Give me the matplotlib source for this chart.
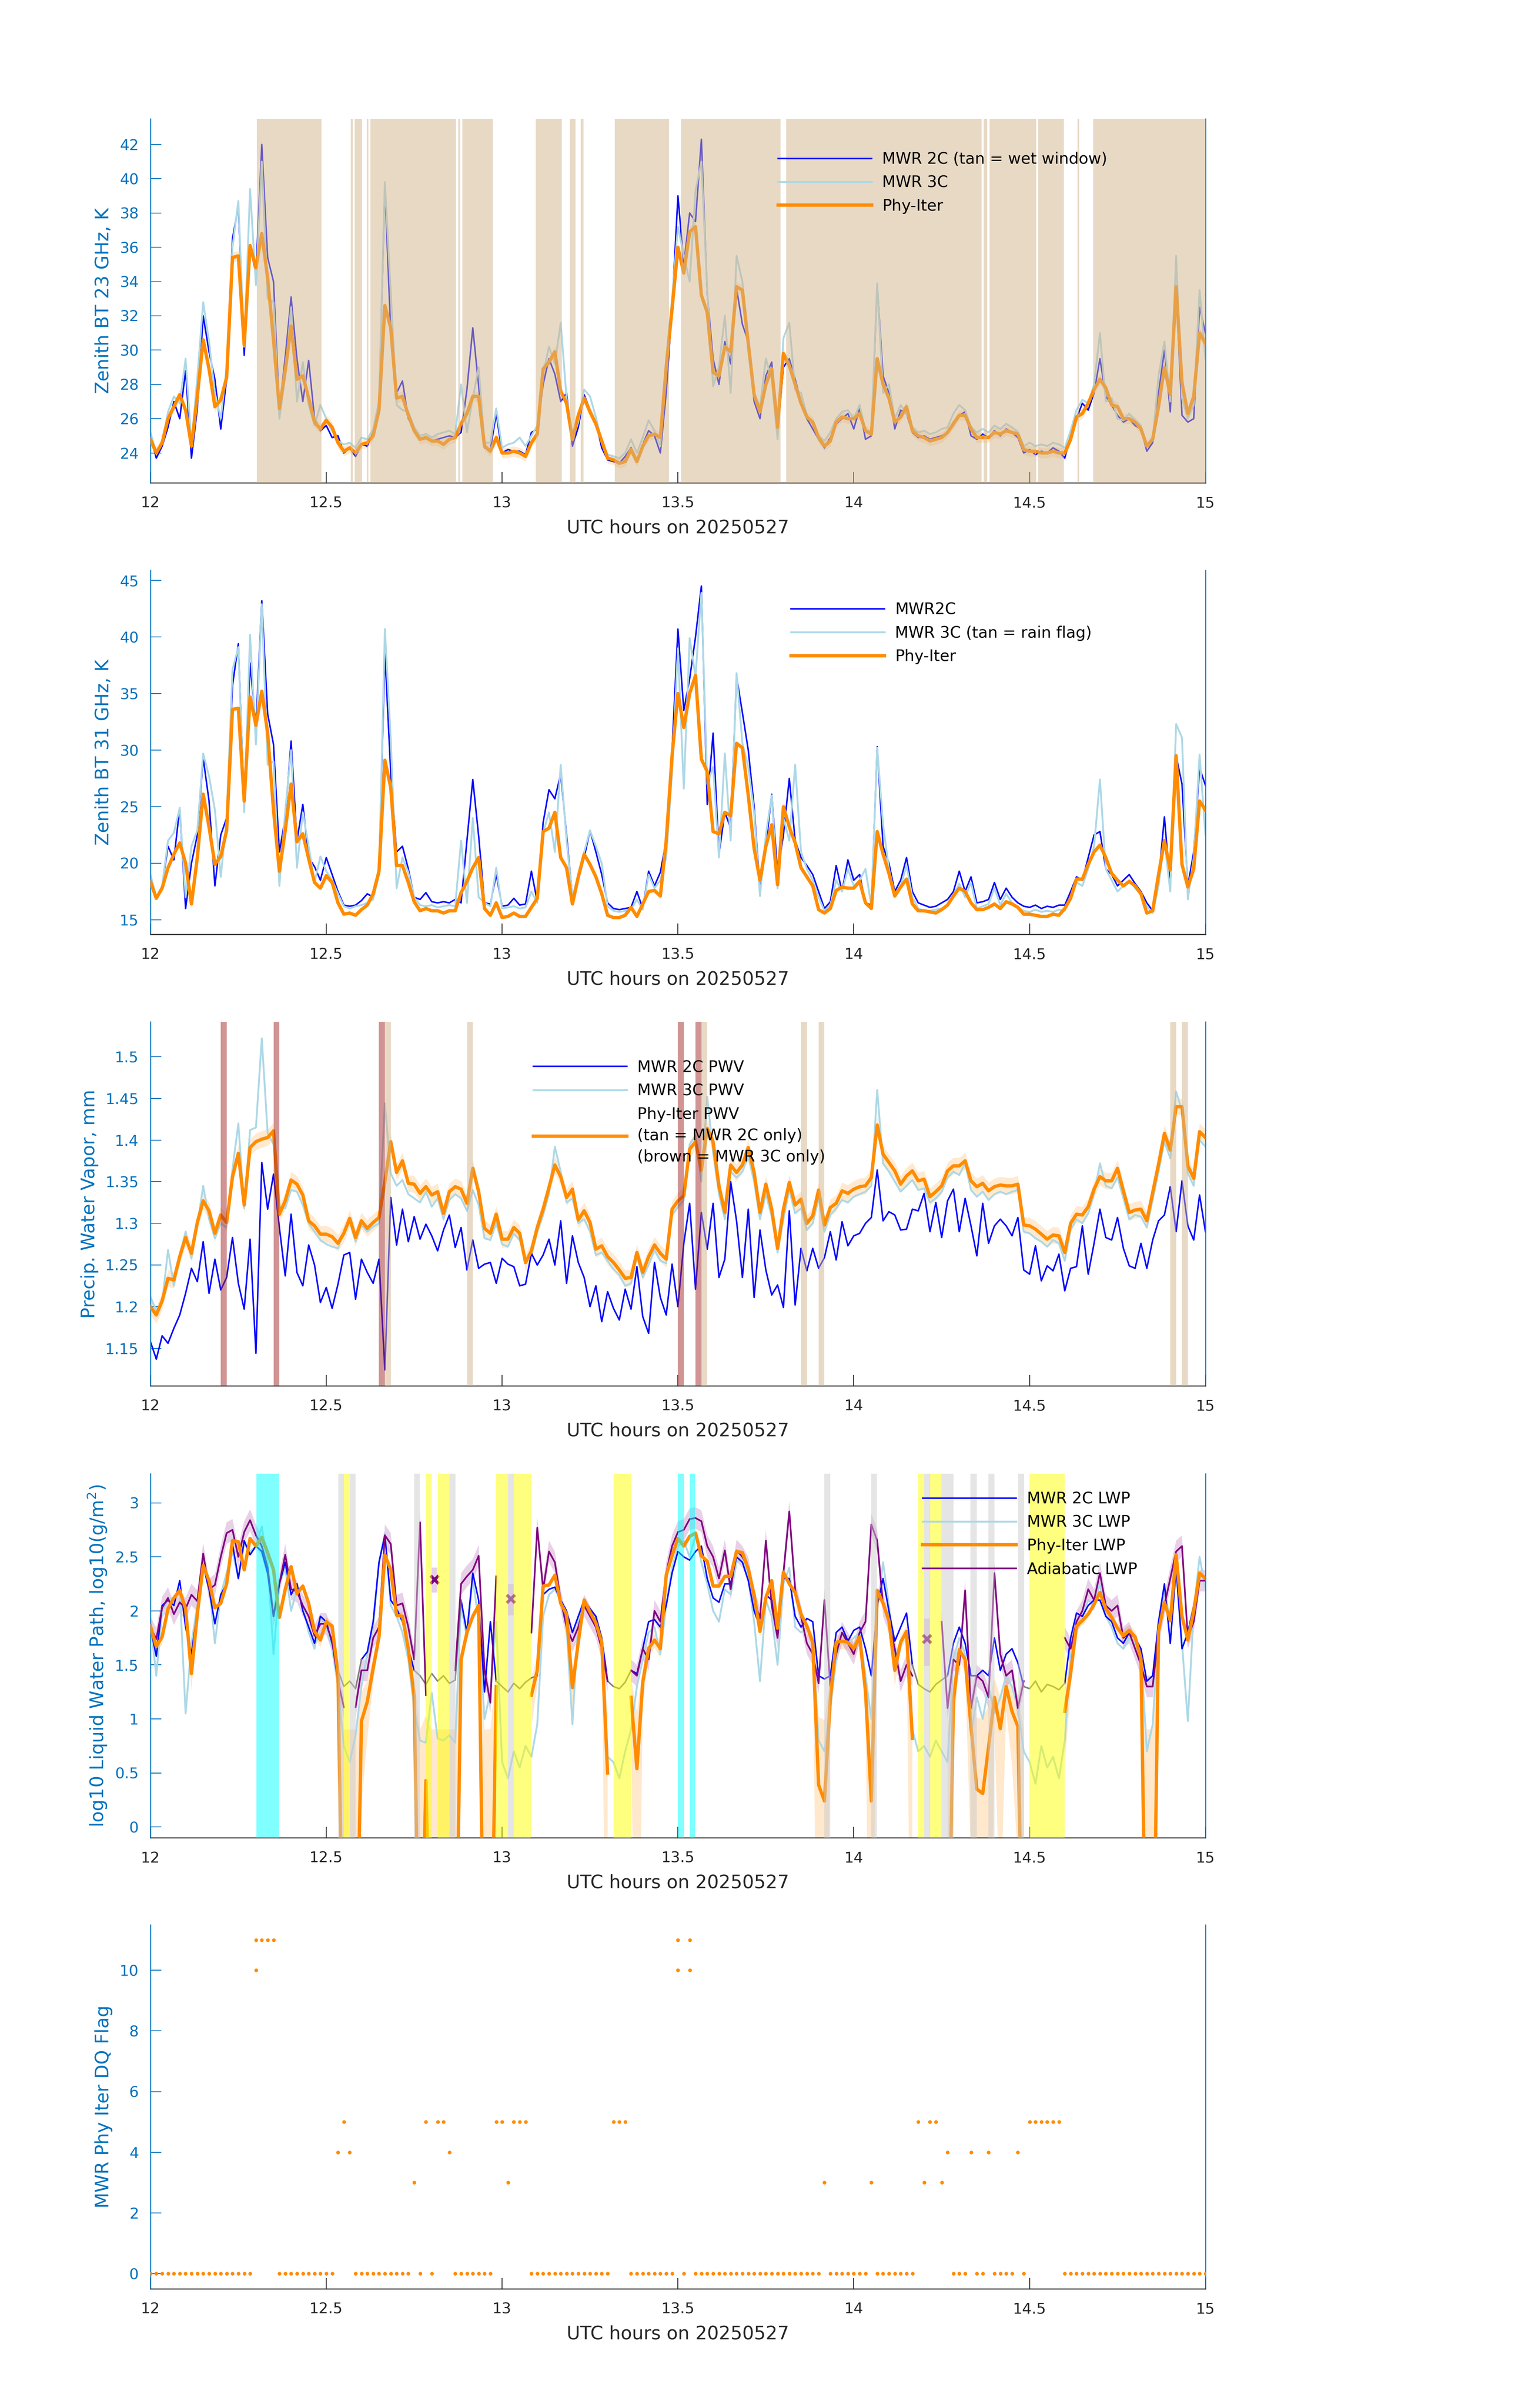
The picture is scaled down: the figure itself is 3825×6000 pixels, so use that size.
import numpy as np
import matplotlib
matplotlib.use("Agg")
import matplotlib.pyplot as plt
from matplotlib import ticker

plt.rcParams["font.family"] = ["DejaVu Sans"]

na = np.nan

# one sample per minute, 12:00 - 15:00 UTC
minutes = np.arange(181)
hours = 12 + minutes / 60.0

# ---- panel 1: 23 GHz brightness temperature (K) ----
bt23_phy = [
    24.8, 24.0, 24.6, 26.0, 26.7, 27.4, 26.5, 24.4, 27.3, 30.6,
    28.9, 26.7, 27.1, 28.4, 35.4, 35.5, 30.3, 36.1, 34.8, 36.8,
    34.2, 30.6, 26.6, 28.8, 31.4, 28.3, 28.5, 27.2, 25.8, 25.4,
    25.9, 25.5, 24.6, 24.1, 24.3, 24.0, 24.5, 24.6, 25.0, 26.5,
    32.6, 31.3, 27.2, 27.3, 26.2, 25.3, 24.8, 24.9, 24.7, 24.7,
    24.5, 24.8, 24.9, 25.7, 26.3, 27.3, 27.3, 24.4, 24.1, 24.9,
    24.0, 24.0, 24.1, 24.0, 23.8, 24.6, 25.1, 28.9, 29.3, 29.9,
    27.6, 26.9, 24.8, 26.2, 27.2, 26.4, 25.7, 24.7, 23.7, 23.6,
    23.4, 23.5, 24.2, 23.5, 24.4, 25.0, 25.1, 24.9, 29.0, 32.4,
    36.0, 34.5, 36.9, 37.2, 33.2, 32.2, 28.7, 28.5, 30.2, 29.9,
    33.7, 33.5, 30.4, 27.4, 26.4, 28.0, 28.9, 25.5, 29.8, 29.1,
    28.0, 26.9, 26.1, 25.8, 24.9, 24.4, 24.7, 25.8, 26.1, 26.0,
    26.0, 26.3, 25.3, 25.1, 29.5, 28.0, 27.2, 25.8, 26.1, 26.7,
    25.3, 25.0, 24.9, 24.7, 24.8, 24.9, 25.2, 25.7, 26.2, 26.2,
    25.4, 24.9, 24.9, 24.9, 25.2, 25.1, 25.3, 25.2, 25.1, 24.2,
    24.1, 24.1, 24.0, 24.0, 24.1, 24.0, 24.0, 24.8, 26.1, 26.3,
    26.9, 27.7, 28.3, 27.8, 26.8, 26.7, 26.0, 26.0, 25.8, 25.4,
    24.4, 24.8, 26.7, 29.0, 27.4, 33.7, 28.1, 26.3, 27.3, 31.0, 30.4]
bt23_2c = [
    25.0, 23.7, 24.4, 25.5, 27.0, 26.0, 28.8, 23.7, 26.6, 32.0,
    29.9, 28.3, 25.4, 28.3, 36.5, 38.4, 29.7, 36.0, 34.5, 42.0,
    35.4, 34.0, 26.5, 29.6, 33.1, 29.5, 27.0, 29.4, 26.0, 25.3,
    25.6, 24.9, 25.0, 24.0, 24.3, 23.8, 24.5, 24.4, 25.2, 26.8,
    39.5, 31.0, 27.5, 28.2, 26.0, 25.4, 24.8, 24.9, 24.7, 24.8,
    24.9, 25.0, 24.9, 25.2, 27.7, 31.3, 27.9, 24.3, 24.2, 26.3,
    24.0, 24.2, 24.1, 24.1, 23.9, 25.2, 25.4, 28.0, 29.5, 28.6,
    27.0, 27.5, 24.4, 25.5, 27.4, 26.5, 25.8, 24.3, 23.6, 23.5,
    23.4, 23.8, 24.3, 23.6, 24.5, 25.3, 25.0, 24.0, 27.5, 32.5,
    39.0, 35.0, 38.0, 37.5, 42.3, 33.3, 29.5, 28.0, 30.5, 29.2,
    33.6, 31.5, 30.5, 27.0, 26.0, 28.5, 29.3, 25.2, 29.0, 29.5,
    28.3, 27.0, 26.0, 25.4, 24.8, 24.3, 24.9, 25.7, 26.0, 26.3,
    25.4, 26.6, 24.8, 25.0, 33.8, 28.5, 27.5, 25.4, 26.5, 26.3,
    25.2, 24.9, 25.0, 24.8, 24.9, 25.0, 25.2, 25.8, 26.2, 26.4,
    25.0, 24.8, 25.1, 24.9, 25.3, 25.0, 25.4, 25.2, 24.9, 24.0,
    24.2, 23.9, 24.1, 24.0, 24.3, 24.1, 23.7, 25.0, 26.0, 26.9,
    26.5, 27.5, 29.5, 27.3, 26.8, 26.2, 25.8, 26.0, 25.6, 25.4,
    24.1, 24.6, 27.5, 30.0, 26.4, 33.5, 26.2, 25.8, 26.0, 32.5, 31.0]
bt23_3c = [
    25.2, 24.0, 24.6, 26.4, 27.3, 26.9, 29.5, 24.5, 28.4, 32.8,
    30.5, 27.5, 26.0, 29.0, 36.0, 38.7, 30.2, 39.4, 33.8, 41.0,
    33.0, 32.8, 26.0, 28.5, 32.5, 27.0, 29.3, 26.8, 25.6, 26.8,
    26.0, 25.3, 24.7, 24.5, 24.6, 24.3, 24.9, 24.8, 25.4, 27.0,
    39.8, 33.4, 26.8, 26.5, 26.4, 25.5, 25.0, 25.1, 24.9, 25.1,
    25.2, 25.3, 25.1, 28.0, 25.2, 27.2, 29.0, 24.6, 24.6, 26.6,
    24.3, 24.5, 24.6, 24.9, 24.4, 25.0, 25.6, 28.6, 30.2, 29.2,
    31.6, 27.2, 24.8, 25.8, 27.7, 27.3, 26.1, 24.6, 23.9, 23.8,
    23.7, 24.0, 24.8, 24.0, 24.9, 25.9, 25.3, 24.4, 29.5, 33.0,
    37.2, 35.5, 34.0, 39.3, 41.0, 33.5, 27.9, 29.0, 32.0, 27.5,
    35.5, 34.0, 30.0, 27.5, 26.7, 29.5, 28.3, 24.8, 30.7, 31.6,
    27.7, 27.5, 26.2, 25.7, 25.0, 24.7, 25.2, 26.0, 26.4, 26.5,
    26.0, 26.8, 25.3, 25.3, 33.9, 27.5, 28.0, 26.0, 26.8, 26.3,
    25.5, 25.2, 25.3, 25.1, 25.2, 25.4, 25.5, 26.3, 26.8, 26.5,
    25.5, 25.2, 25.4, 25.2, 25.6, 25.4, 25.7, 25.5, 25.2, 24.4,
    24.6, 24.4, 24.5, 24.4, 24.6, 24.5, 24.3, 25.3, 26.5, 27.1,
    26.9, 28.0, 31.0, 27.0, 27.2, 26.0, 25.9, 26.3, 25.9, 25.6,
    24.4, 24.8, 28.5, 30.5, 27.0, 35.5, 27.2, 26.0, 26.8, 33.5, 29.5]
bt23_phy_unc = 0.3
wet_windows = [
    (12.303, 12.486), (12.570, 12.575), (12.581, 12.602), (12.615, 12.620),
    (12.625, 12.869), (12.875, 12.881), (12.887, 12.974), (13.096, 13.170),
    (13.193, 13.209), (13.224, 13.231), (13.320, 13.475), (13.509, 13.792),
    (13.808, 14.363), (14.369, 14.380), (14.386, 14.519), (14.524, 14.598),
    (14.636, 14.641), (14.681, 15.0)]

# ---- panel 2: 31 GHz brightness temperature (K) ----
bt31_phy = [
    18.4, 16.9, 17.8, 19.6, 20.8, 21.8, 20.0, 16.4, 20.5, 26.1,
    23.2, 19.9, 20.6, 22.9, 33.6, 33.7, 25.5, 34.7, 32.2, 35.2,
    31.5, 24.7, 19.3, 22.9, 27.0, 21.9, 22.6, 20.4, 18.3, 17.8,
    18.9, 18.3, 16.5, 15.5, 15.6, 15.4, 15.9, 16.3, 17.3, 19.3,
    29.1, 26.7, 19.8, 19.8, 18.3, 16.6, 15.8, 16.0, 15.8, 15.8,
    15.6, 15.8, 15.8, 17.4, 18.4, 19.6, 20.5, 16.0, 15.4, 16.5,
    15.2, 15.3, 15.6, 15.3, 15.3, 16.1, 16.9, 22.8, 23.1, 24.5,
    20.5, 19.6, 16.4, 18.8, 20.8, 19.9, 18.8, 17.3, 15.4, 15.2,
    15.2, 15.4, 16.1, 15.3, 16.4, 17.5, 17.6, 17.1, 22.0, 29.5,
    35.0, 32.0, 35.0, 36.6, 29.2, 28.1, 22.8, 22.6, 24.5, 24.2,
    30.6, 30.2, 26.0, 21.3, 18.5, 21.5, 23.4, 18.1, 25.0, 23.2,
    21.8, 19.6, 18.8, 18.0, 15.9, 15.6, 16.0, 17.6, 17.9, 17.8,
    17.8, 18.4, 16.5, 16.0, 22.8, 20.8, 19.1, 17.1, 17.9, 18.6,
    16.4, 15.8, 15.8, 15.7, 15.6, 15.9, 16.3, 17.1, 17.8, 17.5,
    16.5, 15.9, 15.9, 16.1, 16.4, 16.0, 16.6, 16.4, 16.1, 15.5,
    15.5, 15.4, 15.3, 15.3, 15.5, 15.4, 16.0, 16.9, 18.6, 18.6,
    19.9, 21.0, 21.6, 20.5, 19.1, 18.5, 18.0, 18.4, 18.0, 17.3,
    15.6, 15.8, 19.0, 22.0, 19.4, 29.5, 19.9, 17.9, 19.5, 25.5, 24.7]
bt31_2c = [
    18.5, 17.0, 18.0, 21.5, 20.3, 24.9, 16.0, 20.0, 22.5, 29.3,
    25.5, 18.0, 22.5, 24.0, 35.7, 39.4, 25.0, 37.7, 32.0, 43.2,
    33.2, 30.5, 21.0, 24.0, 30.8, 22.0, 25.2, 20.5, 19.7, 18.5,
    20.5, 19.0, 17.5, 16.3, 16.2, 16.3, 16.7, 17.3, 17.0, 19.5,
    38.6, 28.0, 21.0, 21.5, 19.5, 17.0, 16.8, 17.4, 16.6, 16.5,
    16.6, 16.5, 16.8, 16.5, 22.0, 27.4, 22.4, 16.5, 16.4, 19.0,
    16.2, 16.3, 16.9, 16.3, 16.4, 19.3, 16.6, 23.6, 26.5, 25.7,
    27.9, 22.5, 17.0, 18.5, 20.5, 22.9, 21.0, 19.0, 16.5, 16.0,
    15.9, 16.0, 16.1, 17.5, 16.0, 19.3, 18.0, 19.2, 22.0, 30.0,
    40.7, 33.5, 36.3, 40.0, 44.5, 25.2, 31.5, 20.8, 24.5, 23.1,
    36.5, 33.3, 30.0, 25.0, 17.6, 21.5, 26.1, 19.2, 22.5, 27.5,
    22.0, 20.5, 19.8, 19.0, 17.5, 16.0, 16.6, 19.8, 17.5, 20.3,
    18.5, 19.0, 16.5, 16.3, 30.3, 21.5, 20.0, 17.5, 18.5, 20.5,
    17.5, 16.5, 16.3, 16.1, 16.2, 16.5, 16.8, 17.5, 19.3, 17.5,
    18.8, 16.5, 16.6, 16.8, 18.3, 16.8, 17.8, 17.0, 16.5, 16.2,
    16.1, 16.3, 16.0, 16.2, 16.1, 16.3, 16.3, 17.5, 18.8, 18.5,
    20.5, 22.5, 22.8, 19.5, 19.0, 18.0, 18.5, 19.0, 18.2, 17.5,
    16.5, 15.8, 18.5, 24.1, 17.9, 29.5, 27.0, 18.0, 21.0, 28.4, 26.9]
bt31_3c = [
    19.0, 17.0, 18.0, 22.0, 22.7, 24.9, 17.0, 21.5, 22.9, 29.7,
    27.7, 24.7, 18.8, 23.9, 37.1, 39.1, 24.5, 40.2, 30.5, 42.9,
    28.7, 29.0, 18.0, 24.6, 30.0, 19.6, 24.5, 21.5, 18.3, 20.6,
    19.3, 18.5, 17.3, 16.2, 16.0, 16.2, 16.3, 16.5, 16.8, 19.0,
    40.7, 31.0, 17.8, 20.5, 19.2, 17.0, 16.3, 16.2, 16.3, 16.1,
    16.2, 16.3, 16.2, 22.0, 16.5, 24.0, 17.0, 16.5, 16.2, 19.6,
    16.0, 16.1, 16.2, 16.0, 16.1, 17.5, 16.5, 22.7, 24.5, 21.0,
    28.7, 22.0, 17.0, 19.0, 21.0, 22.9, 21.5, 20.0, 16.2, 15.8,
    15.7, 15.8, 15.9, 16.8, 15.9, 19.0, 17.8, 18.5, 20.5, 28.0,
    39.0, 26.6, 39.9, 36.5, 43.9, 27.0, 28.5, 20.5, 29.7, 22.0,
    36.8, 30.6, 28.5, 24.5, 17.1, 22.5, 26.0, 17.8, 24.0, 22.0,
    28.7, 21.0, 19.5, 18.5, 17.0, 15.8, 16.3, 18.5, 17.5, 19.5,
    18.0, 18.5, 19.5, 16.2, 30.2, 23.4, 19.5, 17.3, 18.0, 19.8,
    17.0, 16.0, 15.8, 15.8, 15.9, 16.0, 16.3, 17.2, 18.2, 17.0,
    18.3, 16.0, 16.2, 16.4, 17.8, 16.3, 17.3, 16.5, 16.1, 15.8,
    15.7, 15.9, 15.7, 15.8, 15.7, 15.9, 15.8, 17.0, 18.3, 18.0,
    19.5, 21.5, 27.4, 19.5, 18.5, 17.5, 18.0, 18.5, 17.8, 17.2,
    16.2, 15.6, 18.0, 22.0, 17.5, 32.3, 31.1, 16.8, 20.5, 29.6, 22.5]

# ---- panel 3: precipitable water vapor (mm) ----
pwv_phy = [
    1.200, 1.190, 1.207, 1.234, 1.232, 1.260, 1.283, 1.264, 1.301, 1.327,
    1.315, 1.288, 1.310, 1.301, 1.356, 1.384, 1.322, 1.391, 1.398, 1.401,
    1.403, 1.411, 1.311, 1.327, 1.352, 1.347, 1.334, 1.303, 1.297, 1.287,
    1.287, 1.284, 1.276, 1.288, 1.306, 1.283, 1.303, 1.294, 1.301, 1.307,
    1.350, 1.398, 1.361, 1.375, 1.348, 1.347, 1.336, 1.344, 1.334, 1.338,
    1.312, 1.338, 1.344, 1.341, 1.324, 1.366, 1.338, 1.294, 1.288, 1.311,
    1.281, 1.281, 1.295, 1.288, 1.253, 1.267, 1.295, 1.317, 1.343, 1.370,
    1.356, 1.331, 1.341, 1.304, 1.315, 1.301, 1.269, 1.273, 1.260, 1.253,
    1.244, 1.234, 1.235, 1.265, 1.241, 1.260, 1.274, 1.264, 1.257, 1.317,
    1.327, 1.333, 1.389, 1.398, 1.364, 1.414, 1.398, 1.345, 1.313, 1.370,
    1.361, 1.370, 1.391, 1.361, 1.313, 1.347, 1.317, 1.270, 1.317, 1.349,
    1.322, 1.329, 1.300, 1.309, 1.340, 1.298, 1.319, 1.324, 1.339, 1.336,
    1.341, 1.344, 1.345, 1.355, 1.418, 1.383, 1.373, 1.363, 1.347, 1.357,
    1.363, 1.351, 1.353, 1.332, 1.338, 1.345, 1.363, 1.369, 1.369, 1.375,
    1.351, 1.344, 1.348, 1.339, 1.344, 1.346, 1.345, 1.345, 1.347, 1.298,
    1.297, 1.293, 1.287, 1.281, 1.286, 1.285, 1.265, 1.300, 1.311, 1.310,
    1.320, 1.341, 1.356, 1.351, 1.351, 1.366, 1.339, 1.313, 1.316, 1.317,
    1.303, 1.337, 1.371, 1.408, 1.388, 1.440, 1.440, 1.369, 1.354, 1.410, 1.403]
pwv_2c = [
    1.158, 1.137, 1.165, 1.156, 1.174, 1.190, 1.216, 1.246, 1.230, 1.278,
    1.216, 1.257, 1.220, 1.235, 1.283, 1.228, 1.197, 1.281, 1.144, 1.373,
    1.317, 1.359, 1.295, 1.237, 1.311, 1.241, 1.225, 1.274, 1.250, 1.205,
    1.223, 1.198, 1.227, 1.262, 1.265, 1.209, 1.257, 1.241, 1.228, 1.257,
    1.124, 1.331, 1.274, 1.317, 1.278, 1.308, 1.281, 1.299, 1.285, 1.267,
    1.292, 1.310, 1.271, 1.295, 1.244, 1.280, 1.246, 1.251, 1.253, 1.228,
    1.258, 1.251, 1.248, 1.225, 1.227, 1.264, 1.250, 1.262, 1.281, 1.250,
    1.303, 1.228, 1.285, 1.253, 1.235, 1.200, 1.225, 1.182, 1.218, 1.198,
    1.184, 1.221, 1.197, 1.248, 1.188, 1.168, 1.253, 1.211, 1.190, 1.251,
    1.200, 1.276, 1.324, 1.221, 1.313, 1.269, 1.324, 1.235, 1.257, 1.350,
    1.303, 1.235, 1.317, 1.211, 1.292, 1.244, 1.214, 1.226, 1.199, 1.315,
    1.202, 1.270, 1.243, 1.270, 1.246, 1.259, 1.290, 1.256, 1.302, 1.273,
    1.285, 1.288, 1.300, 1.307, 1.364, 1.303, 1.314, 1.310, 1.292, 1.293,
    1.317, 1.315, 1.336, 1.290, 1.325, 1.283, 1.327, 1.341, 1.290, 1.330,
    1.297, 1.261, 1.324, 1.276, 1.297, 1.305, 1.297, 1.285, 1.307, 1.244,
    1.239, 1.273, 1.231, 1.249, 1.243, 1.263, 1.219, 1.246, 1.248, 1.297,
    1.239, 1.276, 1.317, 1.283, 1.280, 1.307, 1.270, 1.249, 1.246, 1.276,
    1.246, 1.280, 1.303, 1.310, 1.344, 1.290, 1.351, 1.297, 1.280, 1.334, 1.290]
pwv_3c = [
    1.212, 1.195, 1.205, 1.268, 1.225, 1.262, 1.290, 1.258, 1.298, 1.345,
    1.305, 1.282, 1.300, 1.295, 1.365, 1.420, 1.318, 1.412, 1.415, 1.522,
    1.408, 1.395, 1.320, 1.318, 1.340, 1.338, 1.322, 1.300, 1.290, 1.280,
    1.275, 1.272, 1.270, 1.290, 1.302, 1.278, 1.298, 1.290, 1.296, 1.300,
    1.444, 1.360, 1.345, 1.352, 1.335, 1.330, 1.325, 1.338, 1.320, 1.330,
    1.305, 1.328, 1.335, 1.330, 1.315, 1.340, 1.322, 1.282, 1.280, 1.300,
    1.275, 1.272, 1.288, 1.280, 1.258, 1.262, 1.290, 1.310, 1.335, 1.392,
    1.362, 1.325, 1.330, 1.300, 1.305, 1.290, 1.262, 1.265, 1.255, 1.245,
    1.238, 1.225, 1.228, 1.260, 1.235, 1.250, 1.268, 1.255, 1.252, 1.310,
    1.320, 1.328, 1.395, 1.405, 1.350, 1.452, 1.385, 1.335, 1.305, 1.362,
    1.355, 1.362, 1.380, 1.350, 1.305, 1.335, 1.308, 1.265, 1.305, 1.340,
    1.312, 1.318, 1.292, 1.300, 1.330, 1.290, 1.310, 1.318, 1.328, 1.325,
    1.332, 1.335, 1.338, 1.345, 1.460, 1.372, 1.362, 1.350, 1.338, 1.345,
    1.352, 1.340, 1.342, 1.325, 1.330, 1.338, 1.355, 1.362, 1.358, 1.372,
    1.340, 1.332, 1.338, 1.328, 1.335, 1.338, 1.335, 1.338, 1.340, 1.290,
    1.288, 1.282, 1.278, 1.272, 1.280, 1.276, 1.255, 1.292, 1.305, 1.300,
    1.312, 1.335, 1.372, 1.345, 1.342, 1.355, 1.330, 1.305, 1.310, 1.308,
    1.295, 1.328, 1.362, 1.398, 1.378, 1.458, 1.435, 1.360, 1.345, 1.400, 1.392]
pwv_phy_unc = 0.01
pwv_2c_only_min = [40, 54, 94, 111, 114, 174, 176]   # tan bars
pwv_3c_only_min = [12, 21, 39, 90, 93]                # brown bars

# ---- panel 4: log10 liquid water path (g/m2); -2 = below axis ----
lwp_phy = [
    1.86, 1.67, 1.76, 2.02, 2.12, 2.19, 2.02, 1.42, 1.97, 2.42,
    2.28, 2.03, 2.07, 2.25, 2.65, 2.64, 2.38, 2.67, 2.60, 2.68,
    2.54, 2.38, 1.94, 2.20, 2.41, 2.16, 2.23, 2.07, 1.81, 1.73,
    1.90, 1.86, 1.42, -2, -2, -2, 0.98, 1.16, 1.47, 1.76,
    2.52, 2.38, 1.96, 1.95, 1.65, 1.21, -2, 0.43, -2, -2,
    -2, -2, -2, 1.55, 1.80, 1.95, 2.05, -2, -2, 1.30,
    na, na, na, na, na, 1.22, 1.45, 2.23, 2.24, 2.33,
    2.07, 1.97, 1.29, 1.71, 2.10, 1.99, 1.89, 1.71, 0.50, na,
    na, na, 1.20, 0.54, 1.34, 1.65, 1.73, 1.65, 2.33, 2.51,
    2.67, 2.60, 2.69, 2.72, 2.51, 2.46, 2.23, 2.23, 2.32, 2.32,
    2.55, 2.54, 2.39, 2.15, 1.81, 2.12, 2.28, 1.84, 2.36, 2.25,
    2.17, 1.97, 1.86, 1.71, 0.39, 0.24, 1.19, 1.71, 1.72, 1.71,
    1.65, 1.76, 1.26, 0.24, 2.19, 2.07, 1.91, 1.45, 1.71, 1.81,
    0.82, na, na, na, na, na, -2, 1.16, 1.64, 1.55,
    0.93, 0.35, 0.31, 0.74, 1.20, 0.91, 1.30, 1.07, 0.93, -2,
    na, na, na, na, na, na, 1.07, 1.42, 1.86, 1.91,
    1.97, 2.06, 2.17, 2.02, 1.94, 1.84, 1.77, 1.82, 1.76, 1.56,
    -2, -2, 1.81, 2.08, 1.91, 2.52, 1.95, 1.73, 2.00, 2.35, 2.30]
lwp_2c = [
    1.85, 1.58, 2.05, 2.10, 2.05, 2.28, 1.85, 1.60, 2.00, 2.42,
    2.20, 1.88, 2.15, 2.25, 2.62, 2.30, 2.65, 2.52, 2.60, 2.55,
    2.35, 1.95, 2.25, 2.45, 2.15, 2.25, 2.00, 1.85, 1.70, 1.95,
    1.90, 1.70, 1.45, 1.30, 1.35, 1.28, 1.55, 1.62, 1.90, 2.45,
    2.70, 2.10, 2.02, 1.90, 1.65, 1.45, 1.40, 1.32, 1.42, 1.35,
    1.40, 1.33, 1.36, 2.10, 1.80, 2.35, 2.10, 1.25, 1.90, 1.35,
    1.30, 1.25, 1.33, 1.28, 1.34, 1.38, 1.40, 2.15, 2.20, 2.22,
    2.10, 2.00, 1.80, 1.95, 2.10, 2.02, 1.95, 1.75, 1.35, 1.30,
    1.28, 1.34, 1.45, 1.42, 1.65, 1.90, 1.92, 1.85, 2.05, 2.35,
    2.55, 2.50, 2.47, 2.55, 2.60, 2.30, 2.12, 2.08, 2.25, 2.25,
    2.50, 2.45, 2.28, 2.00, 1.85, 2.15, 2.10, 1.80, 2.30, 2.30,
    1.95, 1.85, 1.93, 1.90, 1.40, 1.37, 1.40, 1.80, 1.85, 1.72,
    1.82, 1.85, 1.65, 1.40, 2.05, 2.30, 2.00, 1.72, 1.85, 1.98,
    1.50, 1.32, 1.28, 1.25, 1.32, 1.36, 1.40, 1.70, 1.85, 1.70,
    1.40, 1.40, 1.45, 1.40, 1.75, 1.45, 1.60, 1.65, 1.52, 1.30,
    1.28, 1.35, 1.25, 1.32, 1.30, 1.27, 1.33, 1.75, 1.98, 1.95,
    2.05, 2.10, 2.10, 1.95, 1.90, 1.75, 1.70, 1.80, 1.75, 1.65,
    1.35, 1.40, 1.90, 2.25, 1.70, 2.40, 1.65, 1.80, 2.05, 2.35, 2.30]
lwp_2c_clear = [(32, 36), (45, 53), (59, 66), (78, 82), (130, 136), (149, 156)]
lwp_3c = [
    1.90, 1.40, 2.00, 2.10, 2.12, 2.20, 1.05, 1.70, 2.05, 2.45,
    2.25, 1.70, 2.15, 2.35, 2.55, 2.30, 2.62, 2.55, 2.60, 2.78,
    2.45, 1.60, 2.25, 2.40, 2.00, 2.20, 2.05, 1.80, 1.65, 1.95,
    1.85, 1.65, 1.30, 0.75, 0.60, 0.85, 1.30, 1.60, 1.85, 2.45,
    2.72, 2.05, 1.95, 1.80, 1.55, 1.10, 0.80, 0.78, 1.24, 0.82,
    0.80, 0.85, 0.78, 2.05, 1.75, 2.30, 1.90, 1.00, 1.25, 1.90,
    0.60, 0.45, 0.70, 0.55, 0.75, 0.65, 0.95, 1.95, 2.15, 2.20,
    2.10, 1.85, 0.95, 1.90, 2.10, 1.95, 1.95, 1.70, 0.65, 0.60,
    0.45, 0.70, 0.90, 1.30, 1.55, 1.80, 1.85, 1.60, 2.05, 2.40,
    2.60, 2.65, 2.50, 2.70, 2.45, 2.25, 2.00, 1.90, 2.20, 2.15,
    2.45, 2.50, 2.30, 1.90, 1.35, 2.10, 1.95, 1.50, 2.25, 2.40,
    1.85, 1.80, 1.85, 1.75, 0.80, 0.70, 1.10, 1.55, 1.80, 1.70,
    1.75, 1.80, 1.40, 1.00, 2.00, 2.45, 2.05, 1.60, 1.70, 1.80,
    0.90, 0.70, 0.75, 0.65, 0.80, 0.70, 0.60, 1.55, 1.75, 1.60,
    0.85, 1.20, 1.00, 1.30, 1.05, 1.20, 1.40, 1.30, 1.10, 0.70,
    0.60, 0.40, 0.75, 0.55, 0.65, 0.45, 0.80, 1.60, 1.85, 1.95,
    2.10, 2.05, 2.25, 1.95, 1.85, 1.70, 1.65, 1.75, 1.70, 1.60,
    0.70, 0.95, 1.85, 2.20, 1.90, 2.45, 1.70, 0.98, 2.00, 2.50, 2.20]
lwp_adiab = [
    1.85, 1.74, 2.03, 2.12, 1.97, 2.08, 2.02, 2.15, 2.09, 2.53,
    2.20, 2.24, 2.50, 2.72, 2.75, 2.50, 2.73, 2.84, 2.70, 2.60,
    2.40, 1.95, 2.25, 2.52, 2.20, 2.18, 2.05, 1.95, 1.77, 1.88,
    1.88, 1.72, 1.35, 1.11, na, 1.11, 1.45, 1.45, 1.75, 1.85,
    2.70, 2.62, 2.05, 2.07, 1.85, 1.55, 2.82, 1.22, na, na,
    na, na, 1.45, 2.25, 2.32, 2.38, 2.51, 1.45, 1.15, 2.32,
    na, na, na, na, na, 1.80, 2.77, 2.20, 2.55, 2.45,
    2.10, 1.85, 1.72, 1.85, 2.05, 1.95, 1.85, 1.65, 1.35, na,
    na, na, 1.45, 1.40, 1.65, 1.55, 2.00, 1.90, 2.35, 2.60,
    2.73, 2.75, 2.85, 2.86, 2.83, 2.60, 2.50, 2.30, 2.56, 2.20,
    2.56, 2.50, 2.40, 2.10, 1.93, 2.65, 2.05, 1.75, 2.35, 2.92,
    2.20, 1.95, 1.70, 1.60, 1.33, 2.10, 1.30, 1.60, 1.80, 1.70,
    1.60, 1.80, 1.90, 2.80, 2.65, 2.05, 1.90, 1.65, 1.35, 1.50,
    1.40, na, na, na, na, 1.90, 1.10, 1.55, 1.50, 2.19,
    1.10, 1.40, 1.35, 1.20, 2.35, 1.60, 1.40, 1.45, 1.10, 1.35,
    na, na, na, na, na, na, 1.75, 1.65, 1.90, 2.00,
    2.20, 2.10, 2.35, 2.05, 2.00, 2.05, 1.75, 1.80, 1.65, 1.50,
    1.30, 1.30, 1.80, 2.05, 2.30, 2.55, 2.60, 1.75, 1.90, 2.28, 2.28]
lwp_phy_sigma = 8.0     # g/m2
lwp_adiab_unc = 0.1     # log10 units
adiab_pt_hours = [12.808, 13.025, 14.208]
adiab_pt_vals = [2.29, 2.11, 1.74]
adiab_pt_lo = [2.17, 1.96, 1.49]
adiab_pt_hi = [2.40, 2.25, 1.93]
rain_spans = [(12.301, 12.365), (13.500, 13.517), (13.534, 13.549)]
yellow_spans = [(12.550, 12.567), (12.783, 12.800), (12.817, 12.850), (12.983, 13.017),
                (13.033, 13.082), (13.317, 13.367), (14.183, 14.200), (14.217, 14.249),
                (14.499, 14.600)]
gray_spans = [(12.534, 12.550), (12.567, 12.583), (12.750, 12.766), (12.850, 12.867),
              (13.017, 13.033), (13.916, 13.933), (14.050, 14.066), (14.200, 14.217),
              (14.249, 14.284), (14.332, 14.350), (14.383, 14.400), (14.467, 14.484)]

# ---- panel 5: Phy-Iter data quality flag ----
dq_flag = ([0] * 18 + [11] * 4 + [0] * 10 + [4, 5, 4] + [0] * 10
           + [3, 0, 5, 0, 5, 5, 4] + [0] * 7 + [5, 5, 3, 5, 5, 5] + [0] * 14
           + [5] * 3 + [0] * 8 + [11, 0, 11] + [0] * 22 + [3] + [0] * 7 + [3]
           + [0] * 7 + [5, 3, 5, 5, 3, 4] + [0, 0, 0, 4, 0, 0, 4, 0, 0, 0, 0, 4, 0]
           + [5] * 6 + [0] * 25)
dq_extra_min = [18, 90, 92]
dq_extra_val = [10, 10, 10]

AX_BLUE = "#0072BD"
DARK = "#262626"
C_2C = "#0000FF"
C_3C = "#ADD8E6"
C_PHY = "#FF8C00"
C_ADI = "#800080"

for name, arr in [("bt23_phy", bt23_phy), ("bt23_2c", bt23_2c), ("bt23_3c", bt23_3c),
                  ("bt31_phy", bt31_phy), ("bt31_2c", bt31_2c), ("bt31_3c", bt31_3c),
                  ("pwv_phy", pwv_phy), ("pwv_2c", pwv_2c), ("pwv_3c", pwv_3c),
                  ("lwp_phy", lwp_phy), ("lwp_2c", lwp_2c), ("lwp_3c", lwp_3c),
                  ("lwp_adiab", lwp_adiab), ("dq_flag", dq_flag)]:
    if len(arr) != len(minutes):
        raise ValueError(f"{name} has {len(arr)} values")


def style_axis(ax, ylim, yticks, ylabel):
    ax.set_xlim(12, 15)
    ax.set_ylim(*ylim)
    ax.set_xticks([12, 12.5, 13, 13.5, 14, 14.5, 15])
    ax.set_yticks(yticks)
    fmt = ticker.FuncFormatter(lambda v, p: f"{round(v, 4):g}")
    ax.xaxis.set_major_formatter(fmt)
    ax.yaxis.set_major_formatter(fmt)
    ax.tick_params(axis="x", direction="in", length=6.5, width=0.5, colors=DARK,
                   labelsize=9, pad=8)
    ax.tick_params(axis="y", direction="in", length=6.5, width=0.5, colors=AX_BLUE,
                   labelsize=9, pad=7)
    ax.spines["top"].set_visible(False)
    ax.spines["bottom"].set_color(DARK)
    ax.spines["left"].set_color(AX_BLUE)
    ax.spines["right"].set_color(AX_BLUE)
    for s in ax.spines.values():
        s.set_linewidth(0.6)
    ax.set_xlabel("UTC hours on 20250527", fontsize=11, color=DARK, labelpad=5)
    ax.set_ylabel(ylabel, fontsize=11, color=AX_BLUE)


def shade(ax, spans, color):
    for a, b in spans:
        ax.axvspan(a, b, color=color, alpha=0.5, lw=0, zorder=4)


def add_legend(ax, handles, labels, x, y):
    leg = ax.legend(handles, labels, loc="upper left", bbox_to_anchor=(x, y), frameon=False,
                    fontsize=9.4, handlelength=5.95, handletextpad=0.67, labelspacing=0.52,
                    borderpad=0, borderaxespad=0)
    for t in leg.get_texts():
        t.set_linespacing(1.5)
    return leg


fig = plt.figure(figsize=(12.75, 20), dpi=300)
left, width, height = 0.098, 0.6873, 0.1512
bottoms = [0.7995, 0.612, 0.4245, 0.2368, 0.0495]
axes = [fig.add_axes([left, b, width, height]) for b in bottoms]

# panel 1
ax = axes[0]
phy = np.array(bt23_phy)
ax.fill_between(hours, phy - bt23_phy_unc, phy + bt23_phy_unc, color=C_PHY, alpha=0.18, lw=0, zorder=1)
h1, = ax.plot(hours, bt23_2c, color=C_2C, lw=0.9, zorder=2)
h2, = ax.plot(hours, bt23_3c, color=C_3C, lw=1.1, zorder=2.1)
h3, = ax.plot(hours, phy, color=C_PHY, lw=2.0, zorder=3)
shade(ax, wet_windows, "tan")
style_axis(ax, (22.26, 43.5), np.arange(24, 43, 2), "Zenith BT 23 GHz, K")
add_legend(ax, [h1, h2, h3], ["MWR 2C (tan = wet window)", "MWR 3C", "Phy-Iter"], 0.595, 0.909)

# panel 2
ax = axes[1]
h1, = ax.plot(hours, bt31_2c, color=C_2C, lw=0.9, zorder=2)
h2, = ax.plot(hours, bt31_3c, color=C_3C, lw=1.1, zorder=2.1)
h3, = ax.plot(hours, bt31_phy, color=C_PHY, lw=2.0, zorder=3)
style_axis(ax, (13.72, 45.9), np.arange(15, 46, 5), "Zenith BT 31 GHz, K")
add_legend(ax, [h1, h2, h3], ["MWR2C", "MWR 3C (tan = rain flag)", "Phy-Iter"], 0.607, 0.912)

# panel 3
ax = axes[2]
phy = np.array(pwv_phy)
ax.fill_between(hours, phy - pwv_phy_unc, phy + pwv_phy_unc, color=C_PHY, alpha=0.18, lw=0, zorder=1)
h2, = ax.plot(hours, pwv_3c, color=C_3C, lw=1.1, zorder=2)
h1, = ax.plot(hours, pwv_2c, color=C_2C, lw=0.9, zorder=2.1)
h3, = ax.plot(hours, phy, color=C_PHY, lw=2.0, zorder=3)
shade(ax, [(hours[m], hours[m] + 1 / 60) for m in pwv_2c_only_min], "tan")
shade(ax, [(hours[m], hours[m] + 1 / 60) for m in pwv_3c_only_min], "brown")
style_axis(ax, (1.105, 1.542), np.arange(1.15, 1.501, 0.05), "Precip. Water Vapor, mm")
add_legend(ax, [h1, h2, h3],
           ["MWR 2C PWV", "MWR 3C PWV", "Phy-Iter PWV\n(tan = MWR 2C only)\n(brown = MWR 3C only)"],
           0.363, 0.895)

# panel 4
ax = axes[3]
phy = np.array(lwp_phy, dtype=float)
lin = 10 ** phy
ax.fill_between(hours, np.log10(np.clip(lin - lwp_phy_sigma, 1e-3, None)), np.log10(lin + lwp_phy_sigma),
                color=C_PHY, alpha=0.2, lw=0, zorder=1)
adi = np.array(lwp_adiab, dtype=float)
ax.fill_between(hours, adi - lwp_adiab_unc, adi + lwp_adiab_unc, color=C_ADI, alpha=0.18, lw=0, zorder=1.1)
for th, lo, hi in zip(adiab_pt_hours, adiab_pt_lo, adiab_pt_hi):
    ax.fill_between([th - 0.008, th + 0.008], lo, hi, color=C_ADI, alpha=0.18, lw=0, zorder=1.1)
h2, = ax.plot(hours, lwp_3c, color=C_3C, lw=1.1, zorder=2)
blue = np.array(lwp_2c, dtype=float)
gray = np.full_like(blue, np.nan)
for a, b in lwp_2c_clear:
    gray[a:b + 1] = blue[a:b + 1]
    blue[a + 1:b] = np.nan
h1, = ax.plot(hours, blue, color=C_2C, lw=0.9, zorder=2.2)
ax.plot(hours, gray, color="gray", lw=0.9, zorder=2.2)
h4, = ax.plot(hours, adi, color=C_ADI, lw=1.0, zorder=2.4)
ax.plot(adiab_pt_hours, adiab_pt_vals, "x", color=C_ADI, ms=5, mew=1.8, zorder=2.5)
h3, = ax.plot(hours, phy, color=C_PHY, lw=2.0, zorder=3)
shade(ax, rain_spans, "cyan")
shade(ax, yellow_spans, "yellow")
shade(ax, gray_spans, "#CCCCCC")
style_axis(ax, (-0.1, 3.27), np.arange(0, 3.01, 0.5), "log10 Liquid Water Path, log10(g/m$^2$)")
add_legend(ax, [h1, h2, h3, h4], ["MWR 2C LWP", "MWR 3C LWP", "Phy-Iter LWP", "Adiabatic LWP"],
           0.732, 0.951)

# panel 5
ax = axes[4]
ax.plot(hours, dq_flag, "o", color=C_PHY, ms=2.2, mec="none", zorder=3)
ax.plot(hours[dq_extra_min], dq_extra_val, "o", color=C_PHY, ms=2.2, mec="none", zorder=3)
style_axis(ax, (-0.5, 11.5), np.arange(0, 11, 2), "MWR Phy Iter DQ Flag")

fig.savefig("out.png", dpi=300)
plt.close(fig)
